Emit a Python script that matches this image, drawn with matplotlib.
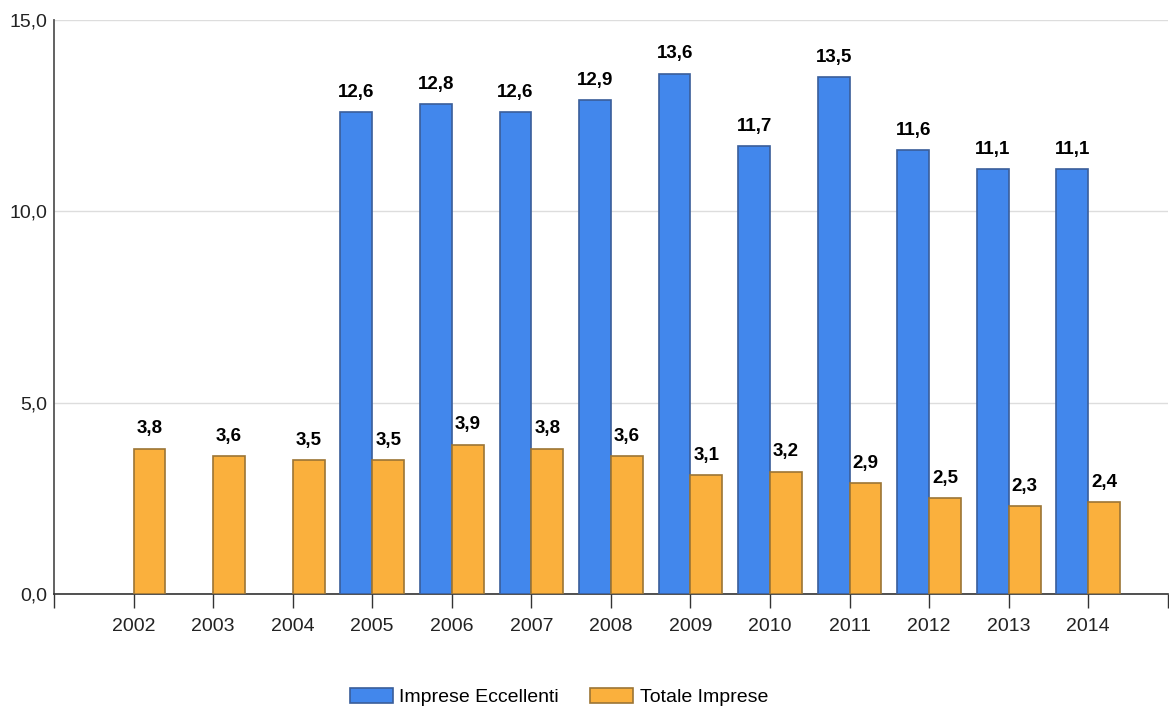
import numpy as np
import matplotlib
matplotlib.use('Agg')
import matplotlib.pyplot as plt

plt.rcParams['font.family'] = ['Liberation Sans', 'DejaVu Sans']

# Data
years = ['2002', '2003', '2004', '2005', '2006', '2007', '2008',
         '2009', '2010', '2011', '2012', '2013', '2014']
eccellenti = [np.nan, np.nan, np.nan, 12.6, 12.8, 12.6, 12.9,
              13.6, 11.7, 13.5, 11.6, 11.1, 11.1]
totale = [3.8, 3.6, 3.5, 3.5, 3.9, 3.8, 3.6,
          3.1, 3.2, 2.9, 2.5, 2.3, 2.4]
series_names = ['Imprese Eccellenti', 'Totale Imprese']


def fmt(v):
    return '{:.1f}'.format(v).replace('.', ',')


fig = plt.figure(figsize=(11.69, 7.11), dpi=100)
ax = fig.add_axes([0.0462, 0.1646, 0.9528, 0.8072])

x = np.arange(len(years))
w = 0.4
ecc = np.array(eccellenti)
tot = np.array(totale)
mask = ~np.isnan(ecc)

b1 = ax.bar(x[mask] - w / 2, ecc[mask], w, color='#4287EC', edgecolor='#3A5E9A',
            linewidth=1.2, label=series_names[0], zorder=3)
b2 = ax.bar(x + w / 2, tot, w, color='#FAB03D', edgecolor='#9C7535',
            linewidth=1.2, label=series_names[1], zorder=3)

for bars, vals in [(b1, ecc[mask]), (b2, tot)]:
    for r, v in zip(bars, vals):
        ax.annotate(fmt(v), (r.get_x() + r.get_width() / 2, v),
                    xytext=(0, 11), textcoords='offset points',
                    ha='center', va='baseline', fontsize=13.5,
                    fontweight='bold', color='black')

ax.set_xlim(-1, len(years))
ax.set_ylim(0, 15)
ax.set_xticks(np.arange(-1, len(years) + 1))
ax.set_xticklabels([''] + years + [''])
ax.set_yticks([0, 5, 10, 15])
ax.set_yticklabels([fmt(v) for v in [0, 5, 10, 15]])

ax.tick_params(axis='x', length=10, width=1, color='#333333', pad=7,
               labelsize=14, labelcolor='#222222')
ax.tick_params(axis='y', length=0, pad=5, labelsize=14, labelcolor='#222222')

ax.grid(axis='y', color='#DDDDDD', linewidth=1, zorder=0)
ax.set_axisbelow(True)
for s in ['top', 'right']:
    ax.spines[s].set_visible(False)
ax.spines['left'].set_color('#555555')
ax.spines['left'].set_linewidth(1.3)
ax.spines['bottom'].set_color('#333333')
ax.spines['bottom'].set_linewidth(1.2)

fig.legend(handles=[b1, b2], labels=series_names, loc='center',
           bbox_to_anchor=(559 / 1169, 1 - 697 / 711), ncol=2, frameon=False,
           fontsize=14, handlelength=2.2, handleheight=0.85,
           handletextpad=0.35, columnspacing=1.6)

fig.savefig('out.png', dpi=100)
